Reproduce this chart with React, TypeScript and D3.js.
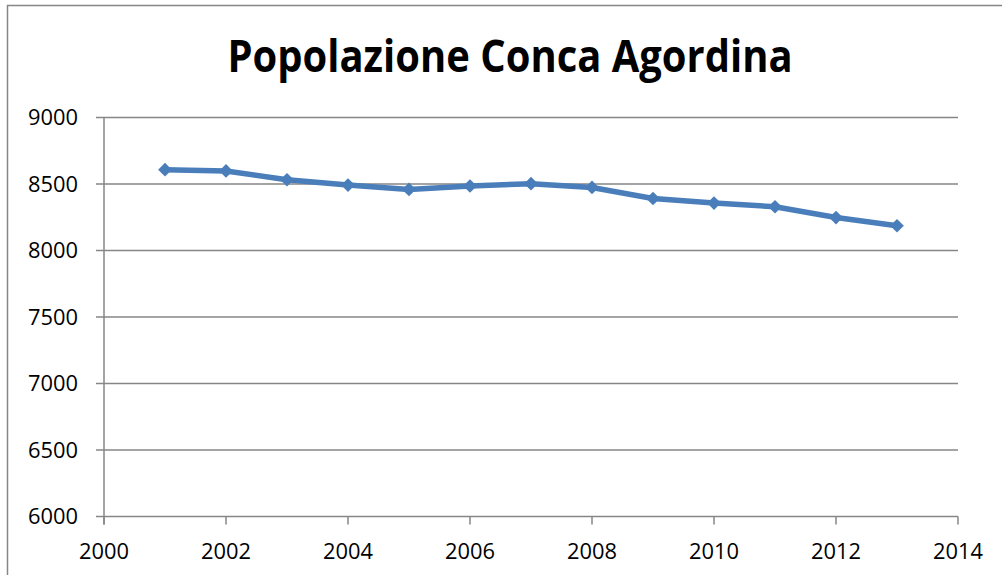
import React, { useRef, useEffect } from 'react'
import * as d3 from 'd3'

const years = [2001, 2002, 2003, 2004, 2005, 2006, 2007, 2008, 2009, 2010, 2011, 2012, 2013]
const population = [8608, 8598, 8532, 8492, 8459, 8485, 8502, 8474, 8391, 8357, 8329, 8248, 8186]
const xTicks = [2000, 2002, 2004, 2006, 2008, 2010, 2012, 2014]
const yTicks = [6000, 6500, 7000, 7500, 8000, 8500, 9000]
const title = 'Popolazione Conca Agordina'

const App = () => {
	const svgRef = useRef<SVGSVGElement | null>(null)

	const width = 1002,
		height = 575
	const margin = { top: 117.5, right: 44, bottom: 58.5, left: 104 }

	useEffect(() => {
		const svg = d3.select(svgRef.current)
		svg.selectAll('*').remove()

		const x = d3
			.scaleLinear()
			.domain([2000, 2014])
			.range([margin.left, width - margin.right])
		const y = d3
			.scaleLinear()
			.domain([6000, 9000])
			.range([height - margin.bottom, margin.top])

		const grey = '#868686'
		const font = "'Open Sans', 'DejaVu Sans', sans-serif"

		svg
			.append('rect')
			.attr('x', 7.5)
			.attr('y', 5.5)
			.attr('width', width + 10)
			.attr('height', height + 10)
			.attr('fill', 'white')
			.attr('stroke', grey)
			.attr('stroke-width', 1.5)

		svg
			.append('text')
			.attr('x', 510)
			.attr('y', 72)
			.attr('text-anchor', 'middle')
			.attr('font-family', font)
			.attr('font-weight', 'bold')
			.attr('font-size', 44)
			.attr('textLength', 565)
			.attr('lengthAdjust', 'spacingAndGlyphs')
			.text(title)

		// gridlines
		svg
			.append('g')
			.selectAll('line')
			.data(yTicks)
			.enter()
			.append('line')
			.attr('x1', x(2000) - 8)
			.attr('x2', x(2014))
			.attr('y1', (d) => y(d))
			.attr('y2', (d) => y(d))
			.attr('stroke', grey)
			.attr('stroke-width', 1.5)

		// y axis line
		svg
			.append('line')
			.attr('x1', x(2000))
			.attr('x2', x(2000))
			.attr('y1', y(9000))
			.attr('y2', y(6000) + 8)
			.attr('stroke', grey)
			.attr('stroke-width', 1.5)

		// x ticks
		svg
			.append('g')
			.selectAll('line')
			.data(xTicks)
			.enter()
			.append('line')
			.attr('x1', (d) => x(d))
			.attr('x2', (d) => x(d))
			.attr('y1', y(6000))
			.attr('y2', y(6000) + 8)
			.attr('stroke', grey)
			.attr('stroke-width', 1.5)

		svg
			.append('g')
			.selectAll('text')
			.data(yTicks)
			.enter()
			.append('text')
			.attr('x', 78)
			.attr('y', (d) => y(d))
			.attr('dy', '0.36em')
			.attr('text-anchor', 'end')
			.attr('font-family', font)
			.attr('font-size', 22)
			.attr('textLength', 50)
			.attr('lengthAdjust', 'spacingAndGlyphs')
			.text((d) => d)

		svg
			.append('g')
			.selectAll('text')
			.data(xTicks)
			.enter()
			.append('text')
			.attr('x', (d) => x(d))
			.attr('y', 559)
			.attr('text-anchor', 'middle')
			.attr('font-family', font)
			.attr('font-size', 22)
			.attr('textLength', 50)
			.attr('lengthAdjust', 'spacingAndGlyphs')
			.text((d) => d)

		const pts = years.map((yr, i) => [yr, population[i]] as [number, number])
		const line = d3
			.line<[number, number]>()
			.x((d) => x(d[0]))
			.y((d) => y(d[1]))

		svg
			.append('path')
			.datum(pts)
			.attr('d', line)
			.attr('fill', 'none')
			.attr('stroke', '#4a7ebb')
			.attr('stroke-width', 5.5)
			.attr('stroke-linejoin', 'round')

		const diamond = d3.symbol().type(d3.symbolDiamond2).size(120)
		svg
			.append('g')
			.selectAll('path')
			.data(pts)
			.enter()
			.append('path')
			.attr('d', diamond)
			.attr('transform', (d) => `translate(${x(d[0])},${y(d[1])})`)
			.attr('fill', '#4a7ebb')
	}, [])

	return (
		<svg
			ref={svgRef}
			width={width}
			height={height}
			style={{ position: 'absolute', left: 0, top: 0, background: 'white' }}
		></svg>
	)
}

export default App
